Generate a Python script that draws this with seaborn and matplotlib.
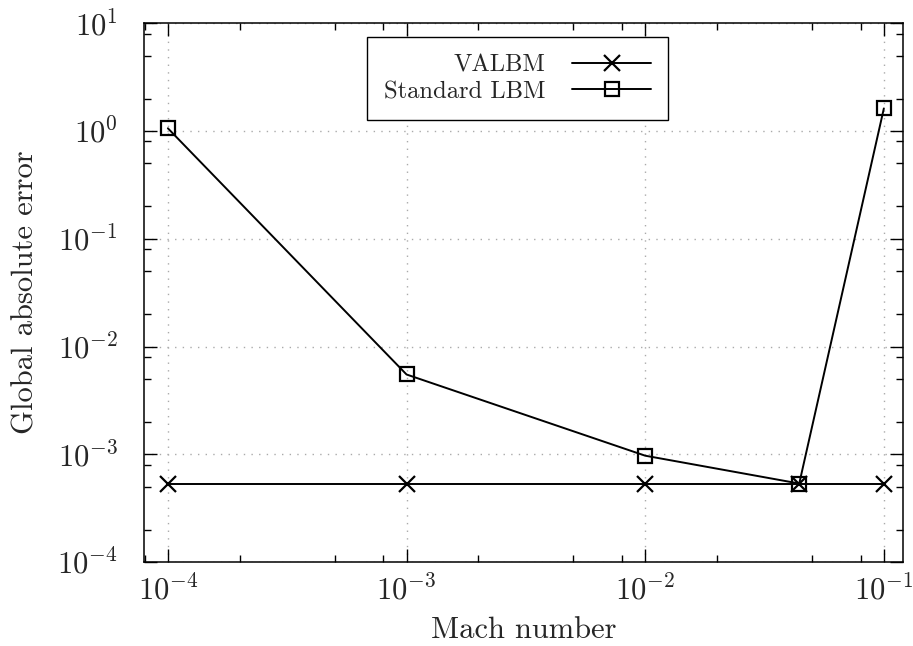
import numpy as np
import pandas as pd
import seaborn as sns
import matplotlib.pyplot as plt
from matplotlib.ticker import LogLocator, NullFormatter

# donnees
mach = [1e-4, 1e-3, 1e-2, 4.42e-2, 1e-1]
err_valbm = [5.35e-4, 5.35e-4, 5.35e-4, 5.35e-4, 5.35e-4]
err_lbm = [1.06, 5.5e-3, 9.7e-4, 5.35e-4, 1.62]

df_valbm = pd.DataFrame({'mach': mach, 'err': err_valbm})
df_lbm = pd.DataFrame({'mach': mach, 'err': err_lbm})

sns.set_theme(style="ticks")
plt.rcParams['font.family'] = ['cmr10']
plt.rcParams['mathtext.fontset'] = 'cm'
plt.rcParams['axes.formatter.use_mathtext'] = True
plt.rcParams['axes.unicode_minus'] = True

fig, ax = plt.subplots(figsize=(9.13, 6.46), dpi=100)
fig.subplots_adjust(left=0.158, right=0.989, bottom=0.130, top=0.964)

ax.set_xscale('log')
ax.set_yscale('log')

sns.lineplot(data=df_valbm, x='mach', y='err', ax=ax, color='black', lw=1.4,
             marker='x', markersize=11, markeredgewidth=1.6, markeredgecolor='black',
             estimator=None, sort=False, label='VALBM')
sns.lineplot(data=df_lbm, x='mach', y='err', ax=ax, color='black', lw=1.4,
             marker='s', markersize=9.5, markerfacecolor='none', markeredgewidth=1.6,
             markeredgecolor='black', estimator=None, sort=False, label='Standard LBM')

ax.set_xlim(10**-4.099, 10**-0.92)
ax.set_ylim(1e-4, 1e1)

for axis in (ax.xaxis, ax.yaxis):
    axis.set_major_locator(LogLocator(base=10, numticks=20))
    axis.set_minor_locator(LogLocator(base=10, subs=[2, 5, 8], numticks=20))
    axis.set_minor_formatter(NullFormatter())

ax.tick_params(which='both', direction='in', top=True, right=True, color='black')
ax.tick_params(which='major', length=9.5, width=1.0, labelsize=22)
ax.tick_params(axis='x', which='major', pad=9)
ax.tick_params(axis='y', which='major', pad=19)
ax.tick_params(which='minor', length=5, width=1.0)
for s in ax.spines.values():
    s.set_color('black')
    s.set_linewidth(1.1)

ax.grid(True, which='major', color='#aaaaaa', linestyle=(0, (1, 4.5)), linewidth=1.0)

ax.set_xlabel('Mach number', fontsize=22, labelpad=8)
ax.set_ylabel('Global absolute error', fontsize=22, labelpad=13)

leg = ax.legend(loc='upper center', bbox_to_anchor=(0.492, 0.974), fontsize=17.7,
                markerfirst=False, frameon=True, fancybox=False, edgecolor='black',
                framealpha=1, handlelength=3.2, labelspacing=0.17, borderpad=0.7,
                handletextpad=1.1, borderaxespad=0)
leg.get_frame().set_linewidth(1.0)

plt.savefig('out.png', dpi=100)
